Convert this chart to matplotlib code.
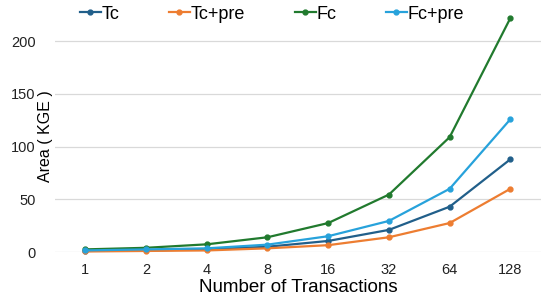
import matplotlib
matplotlib.use("Agg")
import matplotlib.pyplot as plt

# data
transactions = ["1", "2", "4", "8", "16", "32", "64", "128"]
tc = [1.0, 1.5, 2.5, 5.0, 10.5, 21, 43, 88]
tc_pre = [0.5, 1.0, 1.5, 3.5, 6.5, 14, 27.5, 60]
fc = [2.5, 4.0, 7.3, 14, 27.5, 54.5, 109, 222]
fc_pre = [1.5, 2.5, 3.5, 7.0, 15, 29.5, 60, 126]

series = [
    ("Tc", tc, "#215f8a"),
    ("Tc+pre", tc_pre, "#ed7d31"),
    ("Fc", fc, "#217a2e"),
    ("Fc+pre", fc_pre, "#27a2db"),
]

plt.rcParams['font.family'] = ['Liberation Sans', 'DejaVu Sans']

fig = plt.figure(figsize=(5.44, 3.04), dpi=100)
ax = fig.add_axes([0.101, 0.171, 0.893, 0.78])

x = list(range(len(transactions)))
for name, vals, col in series:
    ax.plot(x, vals, color=col, lw=1.6, marker="o", ms=3.5, label=name, clip_on=False, zorder=3)

ax.set_xlim(-0.5, len(transactions) - 0.5)
ax.set_ylim(0, 225)
ax.set_yticks([0, 50, 100, 150, 200])
ax.set_xticks(x)
ax.set_xticklabels(transactions)
ax.tick_params(axis="both", length=0, labelsize=10.5, colors="#222222")
ax.tick_params(axis="y", pad=14)
ax.tick_params(axis="x", pad=8)
ax.grid(axis="y", color="#d9d9d9", lw=0.9)
ax.set_axisbelow(True)
for s in ax.spines.values():
    s.set_visible(False)

ax.set_xlabel("Number of Transactions", fontsize=13.5, labelpad=1)
ax.set_ylabel("Area ( KGE )", fontsize=11.5)
ax.yaxis.set_label_coords(-0.003, 0.49)

fig.legend(loc="upper left", bbox_to_anchor=(0.117, 1.035), ncol=4, frameon=False,
           fontsize=13, handlelength=1.15, handletextpad=0.05, columnspacing=2.75)

fig.savefig("out.png", dpi=100)
